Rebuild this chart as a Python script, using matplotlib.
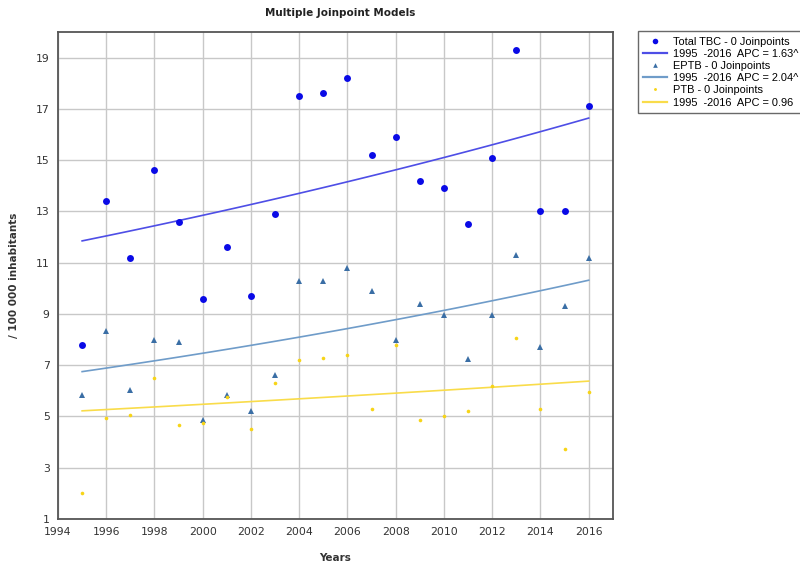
"""
Multiple Joinpoint Models: TBC incidence per 100 000 inhabitants, 1995-2016
"""
import numpy as np
import matplotlib
matplotlib.use('Agg')
import matplotlib.pyplot as plt
from matplotlib.lines import Line2D

years = np.arange(1995, 2017)

total_tbc = [7.8, 13.4, 11.2, 14.6, 12.6, 9.6, 11.6, 9.7, 12.9, 17.5, 17.6,
             18.2, 15.2, 15.9, 14.2, 13.9, 12.5, 15.1, 19.3, 13.0, 13.0, 17.1]
eptb = [5.85, 8.35, 6.05, 8.0, 7.9, 4.85, 5.85, 5.2, 6.6, 10.3, 10.3,
        10.8, 9.9, 8.0, 9.4, 8.95, 7.25, 8.95, 11.3, 7.7, 9.3, 11.2]
ptb = [2.0, 4.95, 5.05, 6.5, 4.65, 4.75, 5.75, 4.5, 6.3, 7.2, 7.3,
       7.4, 5.3, 7.8, 4.85, 5.0, 5.2, 6.2, 8.05, 5.3, 3.75, 5.95]

# model fit: value at 1995 and annual percent change
fit_start = [11.85, 6.75, 5.22]
apc = [1.63, 2.04, 0.96]
apc_txt = ['1.63^', '2.04^', '0.96']
names = ['Total TBC', 'EPTB', 'PTB']

PT_COL = ['#0A0AE6', '#3A6EA5', '#F7D417']
LN_COL = ['#4E4EE6', '#6F9CC9', '#F9DC4A']
MARK = ['o', '^', 'o']
MSIZE = [5.0, 4.2, 2.6]
GRID = '#C8C8C8'; SPINE = '#555555'; TXT = '#333333'

fig = plt.figure(figsize=(8.0, 5.65), dpi=100, facecolor='white')
ax = fig.add_axes([0.0725, 0.0814, 0.6935, 0.862])

for vals, pc, mk, ms in zip([total_tbc, eptb, ptb], PT_COL, MARK, MSIZE):
    ax.plot(years, vals, linestyle='none', marker=mk, ms=ms, color=pc,
            markeredgewidth=0, zorder=4)

t = np.linspace(1995, 2016, 100)
for s, a, lc in zip(fit_start, apc, LN_COL):
    ax.plot(t, s * (1 + a / 100) ** (t - 1995), color=lc, lw=1.2, zorder=3)

ax.set_xlim(1994, 2017)
ax.set_ylim(1, 20)
ax.set_xticks(range(1994, 2017, 2))
ax.set_yticks(range(1, 20, 2))
ax.tick_params(length=0, labelsize=7.8, colors=TXT, pad=6)
ax.grid(True, color=GRID, lw=1.0)
ax.set_axisbelow(True)
for sp in ax.spines.values():
    sp.set_color(SPINE); sp.set_linewidth(1.3)

ax.set_xlabel('Years', fontsize=7.5, fontweight='bold', color=TXT, labelpad=11)
ax.set_ylabel('/ 100 000 inhabitants', fontsize=7.5, fontweight='bold',
              color=TXT, labelpad=12)
fig.text(0.425, 0.985, 'Multiple Joinpoint Models', fontsize=7.5,
         fontweight='bold', color='#222222', ha='center', va='top')

# legend: marker entry then fitted line entry for each series
handles, labels = [], []
for nm, pc, lc, mk, ms, at in zip(names, PT_COL, LN_COL, MARK, MSIZE, apc_txt):
    handles.append(Line2D([], [], linestyle='none', marker=mk,
                          ms=ms * 0.8, color=pc, markeredgewidth=0))
    labels.append(f'{nm} - 0 Joinpoints')
    handles.append(Line2D([], [], color=lc, lw=1.6))
    labels.append(f'1995  -2016  APC = {at}')

leg = fig.legend(handles, labels, loc='upper left',
                 bbox_to_anchor=(0.797, 0.945),
                 prop={'family': 'Liberation Sans', 'size': 7.9},
                 frameon=True, fancybox=False, edgecolor='#444444',
                 handlelength=2.2, handletextpad=0.5, labelspacing=0.2,
                 borderpad=0.5, borderaxespad=0)
leg.get_frame().set_linewidth(1.0)

fig.savefig('out.png', dpi=100, facecolor='white')
